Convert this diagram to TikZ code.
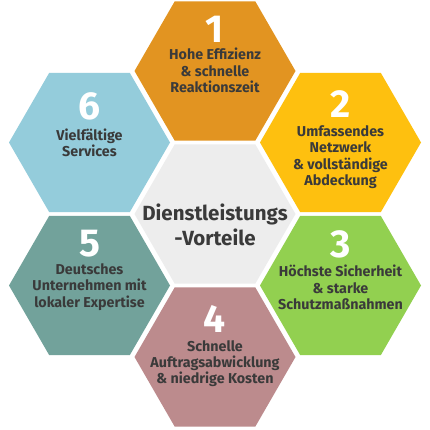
\documentclass[tikz,border=0pt]{standalone}
\usepackage{fontspec}
\setmainfont{Fira Sans}
\usetikzlibrary{shapes.geometric}
\definecolor{cOne}{HTML}{E29421}
\definecolor{cTwo}{HTML}{FEC00F}
\definecolor{cThree}{HTML}{92D050}
\definecolor{cFour}{HTML}{BC8B8D}
\definecolor{cFive}{HTML}{72A29B}
\definecolor{cSix}{HTML}{94CCDB}
\definecolor{cMid}{HTML}{EDEDED}
\definecolor{txt}{HTML}{3A3A3A}
\tikzset{
  hexa/.style={regular polygon, regular polygon sides=6, minimum size=161pt, inner sep=0pt, outer sep=0pt, draw=none},
  numlbl/.style={text=white, font=\fontsize{39}{39}\selectfont\bfseries, inner sep=0pt},
  desc/.style={text=txt, font=\fontsize{14.3}{16.3}\selectfont\bfseries, align=center, inner sep=0pt, anchor=north},
  midlbl/.style={text=txt, font=\fontsize{20.5}{25}\selectfont\bfseries, align=center, inner sep=0pt}
}
\begin{document}
\begin{tikzpicture}[x=1pt,y=-1pt]
\useasboundingbox (0,0) rectangle (430,430);
\fill[white] (0,0) rectangle (430,430);
% hexagons
\node[hexa, fill=cMid]   (hm) at (215,214) {};
\node[hexa, fill=cOne]   (h1) at (215,71) {};
\node[hexa, fill=cTwo]   (h2) at (340.5,142.5) {};
\node[hexa, fill=cThree] (h3) at (340.5,285.5) {};
\node[hexa, fill=cFour]  (h4) at (215,357) {};
\node[hexa, fill=cFive]  (h5) at (89.5,285.5) {};
\node[hexa, fill=cSix]   (h6) at (89.5,142.5) {};
% center text
\node[midlbl] (tm) at (215,225) {Dienstleistungs\\-Vorteile};
% numbers
\node[numlbl] (n1) at ([yshift=42pt]h1.center) {1};
\node[numlbl] (n2) at ([yshift=38pt]h2.center) {2};
\node[numlbl] (n3) at ([yshift=41pt]h3.center) {3};
\node[numlbl] (n4) at ([yshift=38pt]h4.center) {4};
\node[numlbl] (n5) at ([yshift=42pt]h5.center) {5};
\node[numlbl] (n6) at ([yshift=36pt]h6.center) {6};
% descriptions
\node[desc] (t1) at ([yshift=23pt]h1.center) {Hohe Effizienz\\\& schnelle\\Reaktionszeit};
\node[desc] (t2) at ([yshift=17pt]h2.center) {Umfassendes\\Netzwerk\\\& vollständige\\Abdeckung};
\node[desc] (t3) at ([yshift=20.5pt]h3.center) {Höchste Sicherheit\\\& starke\\Schutzmaßnahmen};
\node[desc] (t4) at ([yshift=17pt]h4.center) {Schnelle\\Auftragsabwicklung\\\& niedrige Kosten};
\node[desc] (t5) at ([yshift=22pt]h5.center) {Deutsches\\Unternehmen mit\\lokaler Expertise};
\node[desc] (t6) at ([yshift=14pt]h6.center) {Vielfältige\\Services};
\end{tikzpicture}
\end{document}
